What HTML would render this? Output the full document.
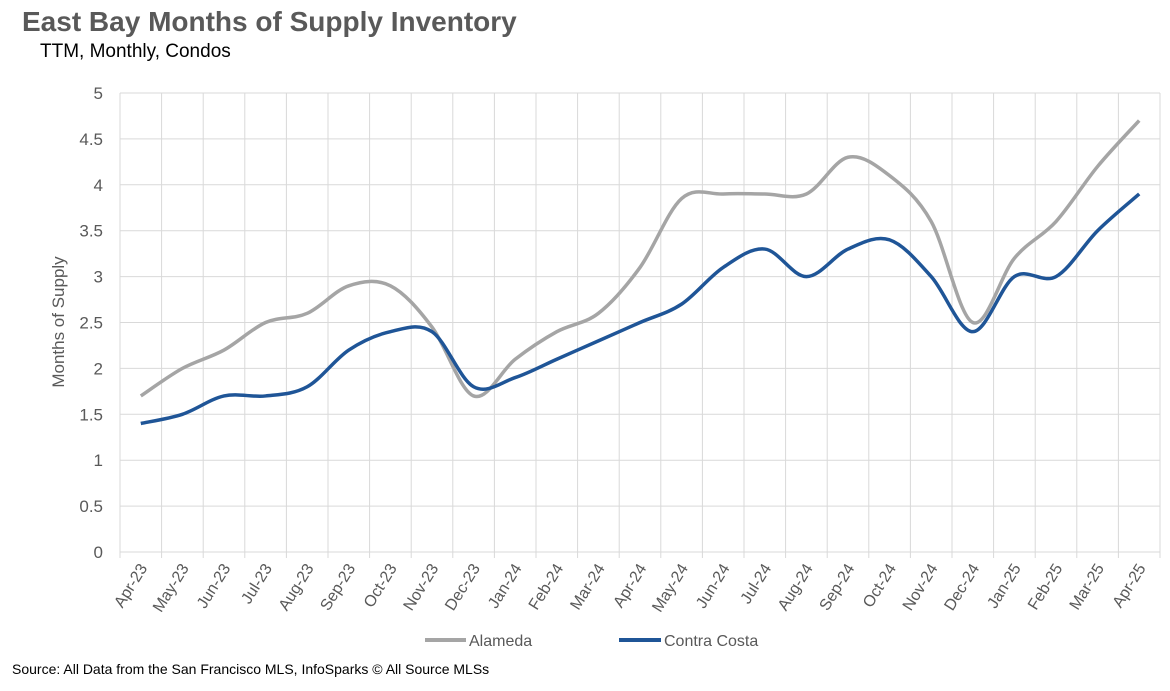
<!DOCTYPE html>
<html><head><meta charset="utf-8"><style>
body{margin:0;background:#fff;font-family:"Liberation Sans",sans-serif;}
</style></head><body>
<svg width="1170" height="686" xmlns="http://www.w3.org/2000/svg" font-family="Liberation Sans, sans-serif">
<text x="22" y="31" font-size="28" font-weight="bold" fill="#595959">East Bay Months of Supply Inventory</text>
<text x="40" y="57" font-size="19" fill="#000">TTM, Monthly, Condos</text>
<g id="grid"></g>
<g id="axes"></g>
<g id="series"></g>
<text transform="translate(64,322) rotate(-90)" text-anchor="middle" font-size="17" fill="#595959">Months of Supply</text>
<g>
<g><line x1="425" y1="640" x2="466" y2="640" stroke="#A5A5A5" stroke-width="4"/><text x="469" y="646" font-size="16" fill="#595959">Alameda</text></g>
<g><line x1="619" y1="640" x2="661" y2="640" stroke="#1F5597" stroke-width="4"/><text x="664" y="646" font-size="16" fill="#595959">Contra Costa</text></g>
</g>
<text x="12" y="674" font-size="14" fill="#000">Source: All Data from the San Francisco MLS, InfoSparks © All Source MLSs</text>
</svg>
<script>
const categories=["Apr-23","May-23","Jun-23","Jul-23","Aug-23","Sep-23","Oct-23","Nov-23","Dec-23","Jan-24","Feb-24","Mar-24","Apr-24","May-24","Jun-24","Jul-24","Aug-24","Sep-24","Oct-24","Nov-24","Dec-24","Jan-25","Feb-25","Mar-25","Apr-25"];
const alameda=[1.7,2.0,2.2,2.5,2.6,2.9,2.9,2.45,1.7,2.1,2.4,2.6,3.1,3.85,3.9,3.9,3.9,4.3,4.1,3.6,2.5,3.2,3.6,4.2,4.7];
const contraCosta=[1.4,1.5,1.7,1.7,1.8,2.2,2.4,2.4,1.8,1.9,2.1,2.3,2.5,2.7,3.1,3.3,3.0,3.3,3.4,3.0,2.4,3.0,3.0,3.5,3.9];
const yTicks=[0,0.5,1,1.5,2,2.5,3,3.5,4,4.5,5];
const NS="http://www.w3.org/2000/svg";
const L=120,R=1160,T=93,B=552;
const bw=(R-L)/categories.length;
const xs=i=>L+bw*(i+0.5);
const ys=v=>B-(v/5)*(B-T);
function mk(tag,attrs,parent){const e=document.createElementNS(NS,tag);for(const k in attrs)e.setAttribute(k,attrs[k]);parent.appendChild(e);return e;}
const grid=document.getElementById('grid'),axes=document.getElementById('axes'),series=document.getElementById('series');
yTicks.forEach(t=>{
 const ln=mk('line',{x1:L,x2:R,y1:ys(t),y2:ys(t),stroke:'#D9D9D9','stroke-width':1},grid);
 
 
 const tx=mk('text',{x:103,y:ys(t)+6,'text-anchor':'end','font-size':17,fill:'#595959'},axes);
 tx.textContent=t;
 
 
});
for(let i=0;i<=categories.length;i++){
 const x=L+bw*i;
 const ln=mk('line',{x1:x,x2:x,y1:T,y2:B+6,stroke:'#D9D9D9','stroke-width':1},grid);
 
 
}
categories.forEach((c,i)=>{
 const x=xs(i)+7,y=B+16;
 const tx=mk('text',{x:x,y:y,'text-anchor':'end','font-size':16,fill:'#595959',transform:`rotate(-58 ${x} ${y})`},axes);
 tx.textContent=c;
 
 
});
function path(vals){
 const p=vals.map((v,i)=>[xs(i),ys(v)]);
 let d=`M${p[0][0]},${p[0][1]}`;
 for(let i=0;i<p.length-1;i++){
  const p0=p[i-1]||p[i],p1=p[i],p2=p[i+1],p3=p[i+2]||p2;
  const c1=[p1[0]+(p2[0]-p0[0])/6,p1[1]+(p2[1]-p0[1])/6];
  const c2=[p2[0]-(p3[0]-p1[0])/6,p2[1]-(p3[1]-p1[1])/6];
  d+=` C${c1[0]},${c1[1]} ${c2[0]},${c2[1]} ${p2[0]},${p2[1]}`;
 }
 return d;
}
const a=mk('path',{d:path(alameda),fill:'none',stroke:'#A5A5A5','stroke-width':3.5},series);


const c=mk('path',{d:path(contraCosta),fill:'none',stroke:'#1F5597','stroke-width':3.5},series);


</script>
</body></html>
